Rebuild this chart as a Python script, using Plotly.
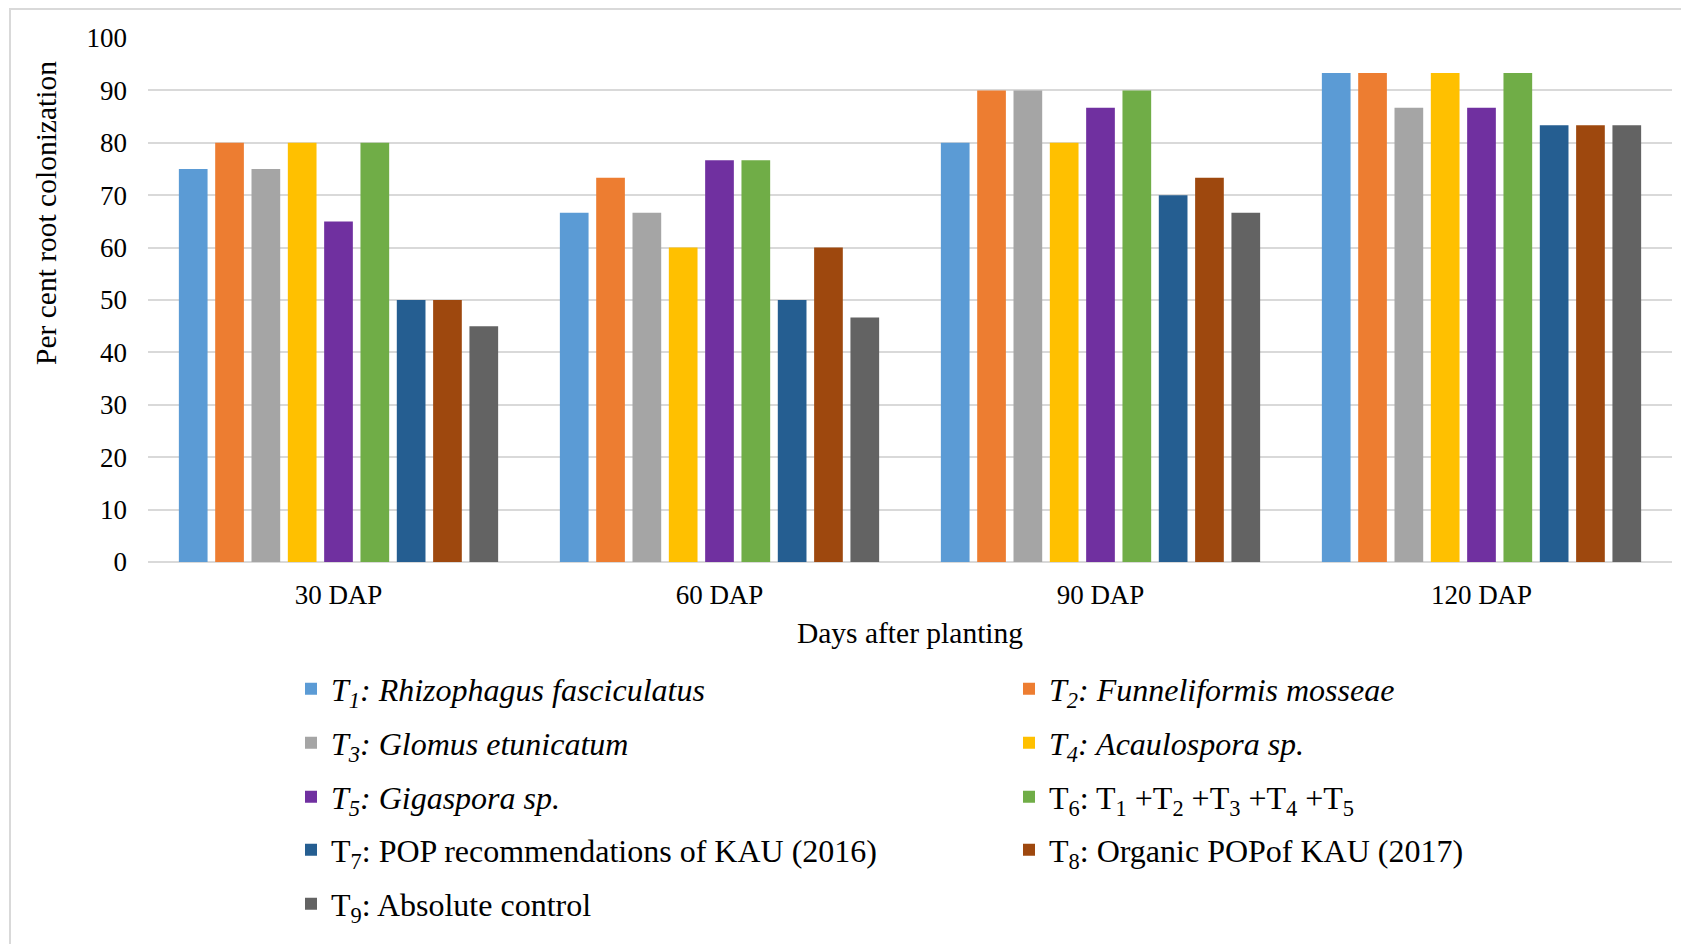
import plotly.graph_objects as go

# Sampling dates (days after planting)
categories = ["30 DAP", "60 DAP", "90 DAP", "120 DAP"]

# Treatment labels (HTML for italics / subscripts)
treatments = [
    "<i>T<sub>1</sub>: Rhizophagus fasciculatus</i>",
    "<i>T<sub>2</sub>: Funneliformis mosseae</i>",
    "<i>T<sub>3</sub>: Glomus etunicatum</i>",
    "<i>T<sub>4</sub>: Acaulospora sp.</i>",
    "<i>T<sub>5</sub>: Gigaspora sp.</i>",
    "T<sub>6</sub>: T<sub>1</sub> +T<sub>2</sub> +T<sub>3</sub> +T<sub>4</sub> +T<sub>5</sub>",
    "T<sub>7</sub>: POP recommendations of KAU (2016)",
    "T<sub>8</sub>: Organic POPof KAU (2017)",
    "T<sub>9</sub>: Absolute control",
]

# Per cent root colonization for each treatment at 30/60/90/120 DAP
t1 = [75.00, 66.67, 80.00, 93.33]
t2 = [80.00, 73.33, 90.00, 93.33]
t3 = [75.00, 66.67, 90.00, 86.67]
t4 = [80.00, 60.00, 80.00, 93.33]
t5 = [65.00, 76.67, 86.67, 86.67]
t6 = [80.00, 76.67, 90.00, 93.33]
t7 = [50.00, 50.00, 70.00, 83.33]
t8 = [50.00, 60.00, 73.33, 83.33]
t9 = [45.00, 46.67, 66.67, 83.33]
series = [t1, t2, t3, t4, t5, t6, t7, t8, t9]

colors = ["#5B9BD5", "#ED7D31", "#A5A5A5", "#FFC000", "#7030A0",
          "#70AD47", "#255E91", "#9E480E", "#636363"]

y_ticks = list(range(0, 101, 10))

FONT = "Liberation Serif, Times New Roman, serif"

W, H = 1681, 944
L, R, T, B = 148, 9, 38, 382
pw, ph = W - L - R, H - T - B


def px_x(p):
    return (p - L) / pw


def px_y(p):
    return (H - B - p) / ph


# Legend laid out as five rows of two entries each
legend_rows_px = [689, 743, 797, 850, 904]
legend_ids = ["legend", "legend2", "legend3", "legend4", "legend5"]

fig = go.Figure()
for i, (name, vals, col) in enumerate(zip(treatments, series, colors)):
    fig.add_trace(go.Bar(
        x=categories, y=vals, name=name,
        marker=dict(color=col, line=dict(width=0)),
        legend=legend_ids[i // 2],
    ))

legend_layouts = {}
for lid, row_y in zip(legend_ids, legend_rows_px):
    legend_layouts[lid] = dict(
        orientation="h",
        x=px_x(291), y=px_y(row_y), xanchor="left", yanchor="middle",
        entrywidth=673, entrywidthmode="pixels",
        font=dict(family=FONT, size=32, color="black"),
        itemclick=False, itemdoubleclick=False,
        bgcolor="rgba(0,0,0,0)", traceorder="normal",
    )

fig.update_layout(
    width=W, height=H,
    margin=dict(l=L, r=R, t=T, b=B, autoexpand=False),
    paper_bgcolor="white", plot_bgcolor="white",
    barmode="group", bargap=0.142, bargroupgap=0.21,
    font=dict(family=FONT, color="black", size=27),
    showlegend=True,
    **legend_layouts,
    xaxis=dict(
        showgrid=False, showline=False, ticks="", zeroline=False,
        tickfont=dict(size=27), ticklabelstandoff=14,
        title=dict(text="Days after planting", font=dict(size=29.5), standoff=13),
        automargin=False,
    ),
    yaxis=dict(
        range=[0, 100], tickvals=y_ticks, showgrid=True,
        gridcolor="#D9D9D9", gridwidth=2, zeroline=True,
        zerolinecolor="#D9D9D9", zerolinewidth=2, showline=False,
        ticks="", tickfont=dict(size=27), ticklabelstandoff=20,
        automargin=False,
    ),
    annotations=[dict(
        text="Per cent root colonization", textangle=-90,
        xref="paper", yref="paper", x=px_x(46), y=px_y(213),
        xanchor="center", yanchor="middle", showarrow=False,
        font=dict(family=FONT, size=29.5, color="black"),
    )],
    shapes=[dict(
        type="rect", xref="paper", yref="paper",
        x0=px_x(10), x1=px_x(1700), y0=px_y(960), y1=px_y(9),
        line=dict(color="#D9D9D9", width=2), fillcolor="rgba(0,0,0,0)",
        layer="below",
    )],
)

fig.write_html("out.html")
